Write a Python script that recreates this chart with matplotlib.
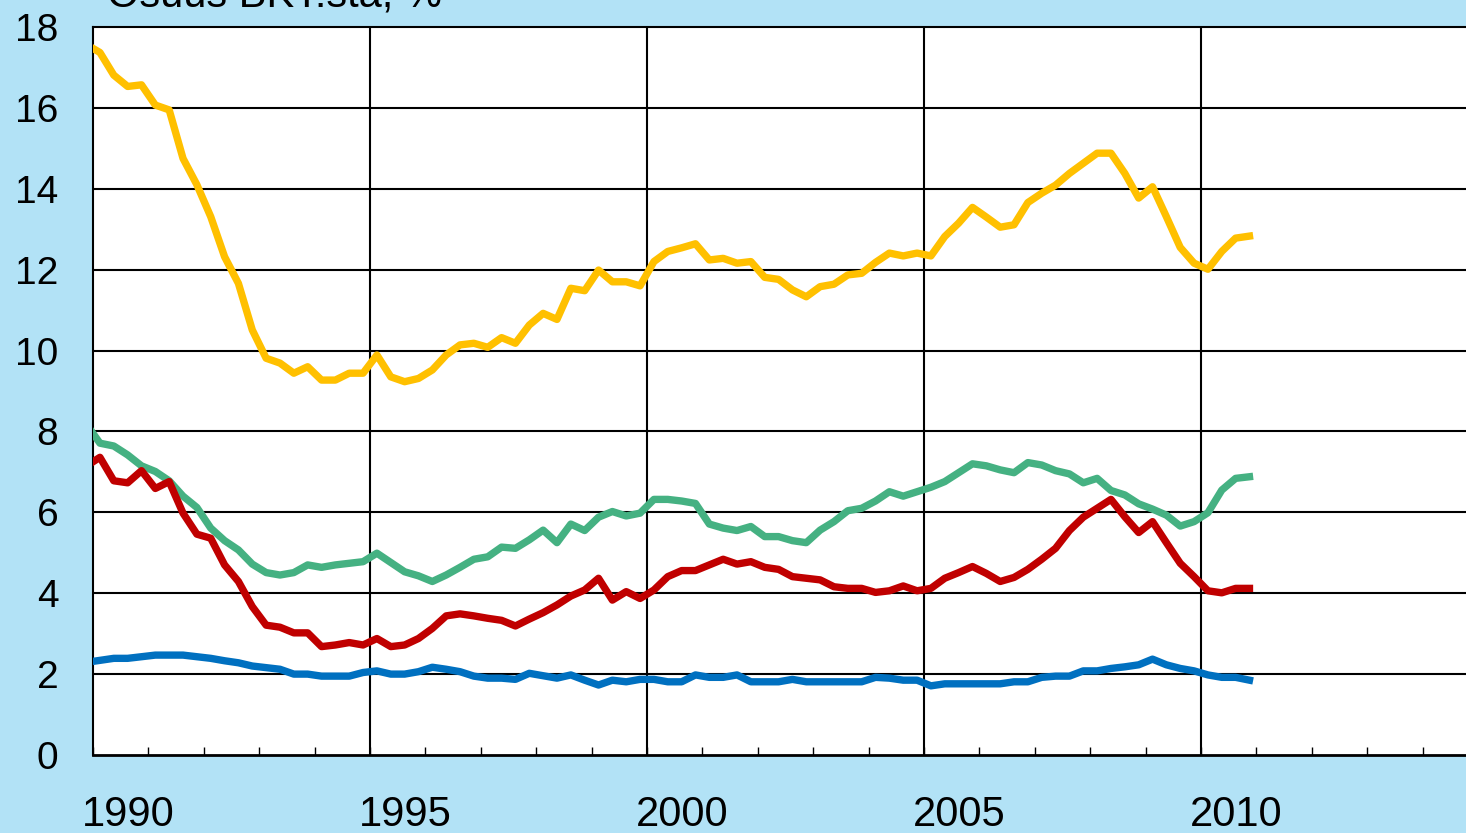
import numpy as np
import pandas as pd
import matplotlib.pyplot as plt

plt.rcParams['font.family'] = ['Liberation Sans', 'DejaVu Sans']

# Neljännesvuosiaineisto 1989Q4 - 2010Q4 (osuus BKT:sta, %)
quarters = pd.period_range('1989Q4', '2010Q4', freq='Q')

keltainen = [17.57,
             17.37, 16.81, 16.53, 16.57, 16.07, 15.95, 14.75, 14.10, 13.31, 12.32,
             11.66, 10.51, 9.81, 9.69, 9.44, 9.60, 9.27, 9.27, 9.44, 9.44,
             9.89, 9.35, 9.23, 9.31, 9.52, 9.89, 10.14, 10.18, 10.08, 10.32,
             10.18, 10.63, 10.92, 10.77, 11.54, 11.48, 11.99, 11.70, 11.70, 11.60,
             12.20, 12.45, 12.54, 12.64, 12.24, 12.28, 12.16, 12.20, 11.81, 11.76,
             11.50, 11.33, 11.58, 11.64, 11.87, 11.91, 12.18, 12.41, 12.34, 12.41,
             12.34, 12.82, 13.15, 13.54, 13.30, 13.05, 13.11, 13.66, 13.89, 14.09,
             14.38, 14.63, 14.88, 14.88, 14.38, 13.77, 14.05, 13.31, 12.55, 12.16,
             12.01, 12.45, 12.78, 12.83]

vihrea = [8.19,
          7.71, 7.64, 7.42, 7.15, 7.01, 6.78, 6.40, 6.12, 5.61, 5.30,
          5.07, 4.72, 4.51, 4.45, 4.51, 4.70, 4.64, 4.70, 4.74, 4.78,
          4.99, 4.76, 4.53, 4.43, 4.29, 4.45, 4.64, 4.84, 4.90, 5.14,
          5.11, 5.32, 5.56, 5.25, 5.71, 5.55, 5.88, 6.02, 5.91, 5.98,
          6.32, 6.32, 6.28, 6.22, 5.71, 5.61, 5.55, 5.65, 5.40, 5.40,
          5.30, 5.25, 5.56, 5.77, 6.04, 6.10, 6.28, 6.51, 6.40, 6.51,
          6.62, 6.76, 6.98, 7.20, 7.15, 7.05, 6.98, 7.23, 7.17, 7.03,
          6.95, 6.73, 6.84, 6.54, 6.43, 6.21, 6.08, 5.93, 5.66, 5.77,
          5.99, 6.55, 6.84, 6.88]

punainen = [7.14,
            7.36, 6.78, 6.73, 7.03, 6.59, 6.76, 5.98, 5.46, 5.36, 4.70,
            4.29, 3.67, 3.21, 3.16, 3.02, 3.02, 2.68, 2.72, 2.78, 2.72,
            2.88, 2.68, 2.72, 2.88, 3.13, 3.44, 3.49, 3.44, 3.38, 3.33,
            3.19, 3.36, 3.52, 3.71, 3.93, 4.08, 4.37, 3.83, 4.04, 3.87,
            4.08, 4.41, 4.56, 4.56, 4.70, 4.84, 4.72, 4.78, 4.64, 4.59,
            4.41, 4.37, 4.33, 4.16, 4.12, 4.12, 4.02, 4.06, 4.18, 4.06,
            4.12, 4.37, 4.51, 4.66, 4.49, 4.29, 4.39, 4.59, 4.84, 5.11,
            5.55, 5.88, 6.10, 6.32, 5.89, 5.50, 5.77, 5.25, 4.74, 4.41,
            4.06, 4.01, 4.12, 4.12]

sininen = [2.29,
           2.34, 2.39, 2.39, 2.43, 2.47, 2.47, 2.47, 2.43, 2.39, 2.33,
           2.28, 2.20, 2.16, 2.12, 2.00, 2.00, 1.95, 1.95, 1.95, 2.04,
           2.08, 2.00, 2.00, 2.06, 2.17, 2.12, 2.06, 1.95, 1.90, 1.90,
           1.87, 2.02, 1.96, 1.90, 1.98, 1.85, 1.73, 1.85, 1.81, 1.87,
           1.87, 1.81, 1.81, 1.98, 1.92, 1.92, 1.98, 1.81, 1.81, 1.81,
           1.87, 1.81, 1.81, 1.81, 1.81, 1.81, 1.92, 1.90, 1.85, 1.85,
           1.71, 1.76, 1.76, 1.76, 1.76, 1.76, 1.81, 1.81, 1.92, 1.95,
           1.95, 2.08, 2.08, 2.14, 2.18, 2.23, 2.37, 2.23, 2.14, 2.08,
           1.98, 1.92, 1.92, 1.85]

vuodet = [1990, 1995, 2000, 2005, 2010]
vuosi_nimet = ['1990', '1995', '2000', '2005', '2010']

# kvartaalin keskikohta
x = quarters.year + (quarters.quarter - 0.5) / 4

fig = plt.figure(figsize=(14.66, 8.33), dpi=100)
fig.patch.set_facecolor('#b2e2f6')
ax = fig.add_axes([93 / 1466, 78 / 833, (1478 - 93) / 1466, 728 / 833])
ax.set_facecolor('white')

ax.plot(x, keltainen, color='#FFC000', lw=5.3, solid_joinstyle='round', zorder=3)
ax.plot(x, vihrea, color='#45B182', lw=5.3, solid_joinstyle='round', zorder=3)
ax.plot(x, punainen, color='#C00000', lw=5.3, solid_joinstyle='round', zorder=3)
ax.plot(x, sininen, color='#0070C0', lw=5.3, solid_joinstyle='round', zorder=3)

ax.set_xlim(1990, 2015)
ax.set_ylim(0, 18)

# ruudukko
for y in range(2, 18, 2):
    ax.axhline(y, color='black', lw=1.5, zorder=1)
for v in vuodet[1:] + [2015]:
    ax.axvline(v, color='black', lw=1.5, zorder=1)

for s in ['top', 'left']:
    ax.spines[s].set_linewidth(1.5)
ax.spines['bottom'].set_linewidth(2)
ax.spines['right'].set_visible(False)

ax.set_yticks(range(0, 19, 2))
ax.tick_params(axis='y', length=0, pad=25, labelsize=28)

# vuosinimet hieman tikin oikealle puolelle
ax.set_xticks([v + 0.63 for v in vuodet], vuosi_nimet)
ax.tick_params(axis='x', which='major', length=0, pad=29, labelsize=30)
ax.set_xticks(np.arange(1990, 2016), minor=True)
ax.tick_params(axis='x', which='minor', direction='in', length=6, width=1)

fig.text(107 / 1466, 826 / 833, 'Osuus BKT:sta, %', fontsize=30, va='baseline')

fig.savefig('out.png', dpi=100, facecolor=fig.get_facecolor())
